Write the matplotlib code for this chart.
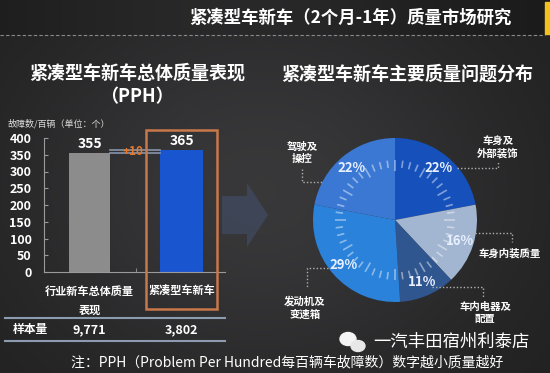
import numpy as np
import matplotlib.pyplot as plt
import matplotlib.transforms as mtransforms
from matplotlib.patches import Rectangle, Polygon, Ellipse

plt.rcParams['font.family'] = ['Noto Sans CJK SC', 'DejaVu Sans']

# left chart: overall quality (PPH)
bar_labels = ['行业新车总体质量\n表现', '紧凑型车新车']
bar_values = [355, 365]
sample_sizes = ['9,771', '3,802']
y_ticks = [0, 50, 100, 150, 200, 250, 300, 350, 400]

# right chart: main quality problem distribution (clockwise from top)
pie_labels = ['车身及\n外部装饰', '车身内装质量', '车内电器及\n配置', '发动机及\n变速箱', '驾驶及\n操控']
pie_values = [22, 16, 11, 29, 22]
pie_colors = ['#1651bb', '#a2b5d1', '#30568f', '#2a82da', '#3a78d4']

W, H = 550, 373
fig = plt.figure(figsize=(5.5, 3.73), dpi=100)


def box(x, y, w, h):
    """pixel box (origin top-left) -> figure fraction rect"""
    return [x / W, 1 - (y + h) / H, w / W, h / H]


# background with soft centre light and darker header band
bg = fig.add_axes([0, 0, 1, 1], zorder=0)
yy, xx = np.mgrid[0:H, 0:W]
shade = 0.12 + 0.10 * np.exp(-((xx - 260) / 260) ** 2 - ((yy - 190) / 210) ** 2)
head = yy < 35
shade[head] = 0.10 + 0.06 * np.exp(-((xx[head] - 230) / 220) ** 2)
img = np.clip(np.dstack([shade, shade, shade * 1.03]), 0, 1)
bg.imshow(img, extent=(0, W, H, 0), aspect='auto')
bg.set_xlim(0, W)
bg.set_ylim(H, 0)
bg.axis('off')
bg.plot([0, 545], [35, 35], color='#8a8a8a', lw=0.8, ls=(0, (3, 2)))
# faint arrow between the two charts
bg.add_patch(Polygon([(222, 196), (247, 196), (247, 183), (268, 215),
                      (247, 247), (247, 234), (222, 234)],
                     closed=True, color='#46577a', alpha=0.45, lw=0))

# overlay for texts and leader lines
ov = fig.add_axes([0, 0, 1, 1], zorder=3)
ov.set_xlim(0, W)
ov.set_ylim(H, 0)
ov.axis('off')
ov.patch.set_alpha(0)

ov.add_patch(Rectangle((545, 2), 6, 32, color='#f2c21b'))
ov.text(512, 18, '紧凑型车新车（2个月-1年）质量市场研究', color='white',
        fontsize=12.5, fontweight='heavy', ha='right', va='center')

ov.text(137, 73, '紧凑型车新车总体质量表现', color='white', fontsize=13,
        fontweight='heavy', ha='center', va='center')
ov.text(137, 97, '（PPH）', color='white', fontsize=13,
        fontweight='heavy', ha='center', va='center')
ov.text(407, 74, '紧凑型车新车主要质量问题分布', color='white', fontsize=13,
        fontweight='heavy', ha='center', va='center')
ov.text(8, 124, '故障数/百辆（单位：个）', color='#dddddd', fontsize=6.5,
        va='center')

# bar chart
ax = fig.add_axes(box(44, 138, 181, 134), zorder=1)
ax.set_facecolor('none')
x = np.arange(len(bar_values))
ax.bar(x[0], bar_values[0], width=0.45, color='#8c8c8c')
ax.bar(x[1], bar_values[1], width=0.47, color='#1a55d0')
ax.set_xlim(-0.495, 1.473)
ax.set_ylim(0, 400)
for i, v in enumerate(bar_values):
    ax.text(x[i], v + 6, str(v), color='white', fontsize=10,
            fontweight='bold', ha='center', va='bottom')

# +10 gap marker
ax.plot([0.225, 0.765], [bar_values[0], bar_values[0]], color='#8795aa', lw=1.2)
ax.plot([0.225, 0.765], [bar_values[1], bar_values[1]], color='#8795aa', lw=1.2)
ax.text(0.47, np.mean(bar_values), '+%d' % (bar_values[1] - bar_values[0]),
        color='#e8782a', fontsize=8.5, fontweight='bold', ha='center', va='center')

for s in ['top', 'right']:
    ax.spines[s].set_visible(False)
ax.spines['left'].set_color('#9a9a9a')
ax.spines['bottom'].set_color('#9a9a9a')
ax.set_yticks(y_ticks)
ax.tick_params(axis='y', colors='#9a9a9a', direction='in', length=3,
               labelcolor='white', labelsize=9, pad=9)
ax.set_xticks(x, bar_labels)
ax.set_xticks([0.5], minor=True)
ax.tick_params(axis='x', which='major', length=0, labelcolor='white',
               labelsize=8, pad=9)
ax.tick_params(axis='x', which='minor', direction='in', length=3, colors='#9a9a9a')
for lab in ax.get_xticklabels() + ax.get_yticklabels():
    lab.set_fontweight('bold')
for lab in ax.get_xticklabels():
    lab.set_linespacing(1.6)

# orange highlight frame around the compact car bar
ov.add_patch(Rectangle((146, 130), 71, 179, fill=False, edgecolor='#c8784a', lw=1.8))

# sample size row
ov.plot([5, 225], [318, 318], color='#8d9bb0', lw=1.5)
ov.plot([5, 225], [341, 341], color='#8d9bb0', lw=1.5)
ov.text(30, 330, '样本量', color='white', fontsize=8.5, fontweight='heavy',
        ha='center', va='center')
tr = mtransforms.blended_transform_factory(ax.transData, ov.transData)
for i, s in enumerate(sample_sizes):
    ax.text(x[i], 330, s, transform=tr, color='white', fontsize=9,
            fontweight='bold', ha='center', va='center')

# pie chart
pa = fig.add_axes(box(313, 138, 164, 164), zorder=1)
wedges, _, autotexts = pa.pie(pie_values, colors=pie_colors, startangle=90,
                              counterclock=False, radius=1, autopct='%d%%',
                              pctdistance=0.83,
                              wedgeprops=dict(linewidth=0))
for t in autotexts:
    t.set_color('#e8f0ff')
    t.set_fontsize(9.5)
    t.set_fontweight('bold')
pa.set_xlim(-1, 1)
pa.set_ylim(-1, 1)
# gauge style tick ring
for k, a in enumerate(np.deg2rad(np.arange(0, 360, 7.5))):
    r0 = 0.60 if k % 4 == 0 else 0.64
    pa.plot([r0 * np.cos(a), 0.73 * np.cos(a)], [r0 * np.sin(a), 0.73 * np.sin(a)],
            color='white', alpha=0.45, lw=1.2, solid_capstyle='butt')

# labels with dotted leaders
lead = dict(color='#b0b0b0', lw=1.0, ls=(0, (1, 1.5)))
lab_kw = dict(color='white', fontsize=7.5, fontweight='heavy', ha='center',
              va='center', linespacing=1.3)
ov.plot([302, 302, 322], [169, 182, 182], **lead)
ov.text(302, 153, pie_labels[4], **lab_kw)
ov.plot([457, 498, 498], [168, 168, 161], **lead)
ov.text(498, 147, pie_labels[0], **lab_kw)
ov.plot([468, 512, 512], [233, 233, 242], **lead)
ov.text(510, 253, pie_labels[1], **lab_kw)
ov.plot([432, 483, 483], [287, 287, 297], **lead)
ov.text(485, 313, pie_labels[2], **lab_kw)
ov.plot([328, 307, 307], [268, 268, 288], **lead)
ov.text(305, 308, pie_labels[3], **lab_kw)

# watermark
ov.add_patch(Ellipse((348, 339), 16, 13, color='#f4f4f4'))
ov.add_patch(Ellipse((358, 346), 14, 11, color='#e8e8e8'))
ov.text(451, 342, '一汽丰田宿州利泰店', color='white', fontsize=12.5,
        ha='center', va='center')

# footnote
ov.text(287, 362, '注：PPH（Problem Per Hundred每百辆车故障数）数字越小质量越好',
        color='white', fontsize=10, ha='center', va='center')

fig.savefig('out.png', dpi=100)
